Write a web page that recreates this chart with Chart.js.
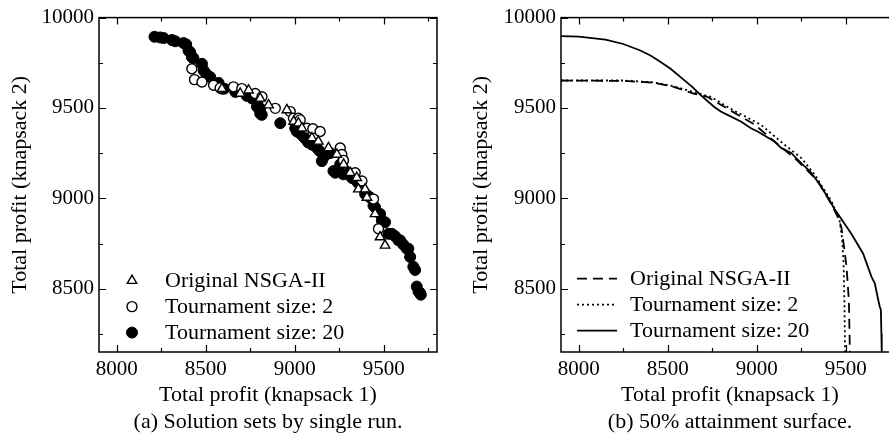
<!DOCTYPE html>
<html>
<head>
<meta charset="utf-8">
<script src="https://cdn.jsdelivr.net/npm/chart.js@4.4.0/dist/chart.umd.min.js"></script>
<style>
  html, body { margin: 0; padding: 0; background: #fff; overflow: hidden; }
  #wrap { position: relative; width: 889px; height: 439px; overflow: hidden; }
  #left { position: absolute; left: 0; top: 0; }
  #right { position: absolute; left: 445px; top: 0; }
</style>
</head>
<body>
<div id="wrap">
  <canvas id="left" width="445" height="439"></canvas>
  <canvas id="right" width="460" height="439"></canvas>
</div>
<script>
// series names
const seriesNames = ['Original NSGA-II', 'Tournament size: 2', 'Tournament size: 20'];

// (a) solutions of a single run
const nsgaX = [8591, 8694, 8741, 8806, 8853, 8956, 8994, 9021, 9041, 9097, 9133, 9190, 9237, 9275, 9312, 9349, 9358, 9396, 9406, 9452, 9480, 9508];
const nsgaY = [9607, 9580, 9598, 9553, 9516, 9489, 9425, 9416, 9388, 9334, 9315, 9279, 9243, 9188, 9142, 9114, 9051, 9051, 9005, 8914, 8786, 8740];

const ts2X = [8422, 8437, 8479, 8544, 8581, 8656, 8703, 8778, 8816, 8891, 8975, 8993, 9021, 9031, 9069, 9102, 9143, 9256, 9265, 9274, 9340, 9378, 9443, 9471];
const ts2Y = [9717, 9657, 9644, 9626, 9611, 9617, 9607, 9580, 9562, 9498, 9480, 9443, 9443, 9434, 9388, 9385, 9370, 9279, 9243, 9210, 9142, 9096, 8996, 8832];

const ts20X = [8212, 8244, 8263, 8310, 8329, 8375, 8390, 8403, 8413, 8422, 8431, 8479, 8488, 8503, 8525, 8572, 8591, 8604,
  8666, 8722, 8731, 8760, 8788, 8788, 8806, 8806, 8815, 8919, 9003, 9012, 9030, 9048, 9060, 9075, 9097, 9125, 9140, 9153,
  9165, 9183, 9199, 9228, 9218, 9256, 9274, 9302, 9321, 9330, 9345, 9357, 9396, 9410, 9424, 9443, 9452, 9480, 9490, 9508,
  9527, 9546, 9565, 9583, 9593, 9610, 9630, 9639, 9649, 9667, 9677, 9686, 9696, 9705, 9709];
const ts20Y = [9894, 9890, 9887, 9876, 9869, 9859, 9852, 9818, 9808, 9781, 9775, 9744, 9708, 9688, 9671, 9639, 9607, 9607,
  9589, 9580, 9567, 9553, 9534, 9507, 9498, 9470, 9462, 9416, 9388, 9370, 9360, 9343, 9330, 9310, 9297, 9279, 9262, 9206,
  9230, 9250, 9251, 9142, 9151, 9188, 9133, 9142, 9114, 9110, 9100, 9085, 9024, 9015, 9005, 8960, 8950, 8914, 8877, 8868,
  8804, 8804, 8790, 8768, 8768, 8745, 8722, 8722, 8676, 8622, 8604, 8512, 8485, 8476, 8467];

// (b) 50% attainment surfaces
const surfNsgaX = [7900, 8250, 8420, 8533, 8646, 8722, 8760, 8855, 8986, 9118, 9232, 9344, 9419, 9457, 9476, 9490, 9505, 9518, 9524];
const surfNsgaY = [9652, 9650, 9640, 9617, 9580, 9562, 9540, 9485, 9410, 9300, 9206, 9096, 8969, 8895, 8841, 8740, 8622, 8439, 8150];

const surfTs2X = [7900, 8250, 8420, 8533, 8646, 8741, 8873, 9024, 9156, 9250, 9325, 9419, 9466, 9480, 9488, 9493, 9497];
const surfTs2Y = [9652, 9652, 9642, 9620, 9588, 9562, 9485, 9407, 9297, 9224, 9133, 8987, 8877, 8780, 8650, 8439, 8150];

const surfTs20X = [7900, 8000, 8150, 8250, 8346, 8403, 8460, 8516, 8572, 8638, 8685, 8760, 8798, 8836, 8911, 8968, 9005, 9100,
  9137, 9194, 9250, 9300, 9344, 9401, 9438, 9457, 9514, 9532, 9598, 9645, 9664, 9683, 9692, 9698, 9701, 9703];
const surfTs20Y = [9898, 9895, 9878, 9854, 9818, 9790, 9754, 9717, 9671, 9617, 9571, 9507, 9480, 9462, 9425, 9388, 9370, 9315,
  9279, 9251, 9195, 9150, 9090, 9005, 8940, 8914, 8830, 8804, 8695, 8567, 8530, 8439, 8400, 8384, 8250, 8150];

// axes
const xTicks = [8000, 8500, 9000, 9500];
const yTicks = [8500, 9000, 9500, 10000];
const xTitle = 'Total profit (knapsack 1)';
const yTitle = 'Total profit (knapsack 2)';
const captions = ['(a) Solution sets by single run.', '(b) 50% attainment surface.'];

const serif = '"Liberation Serif", "Times New Roman", serif';
Chart.defaults.font.family = serif;
Chart.defaults.color = '#000';

const pts = (xs, ys) => xs.map((x, i) => ({ x: x, y: ys[i] }));

// box around the plot with inward ticks (major 500, minor 250)
const frameTicks = {
  id: 'frameTicks',
  afterDraw(chart) {
    const { ctx, chartArea: a, scales: { x, y } } = chart;
    ctx.save();
    ctx.strokeStyle = '#000';
    ctx.lineWidth = 1.5;
    ctx.strokeRect(a.left, a.top, a.right - a.left, a.bottom - a.top);
    ctx.lineWidth = 1.2;
    ctx.beginPath();
    for (let v = Math.ceil(x.min / 250) * 250; v <= x.max; v += 250) {
      const px = Math.round(x.getPixelForValue(v)) + 0.5;
      const len = v % 500 === 0 ? 7 : 4;
      ctx.moveTo(px, a.bottom); ctx.lineTo(px, a.bottom - len);
      ctx.moveTo(px, a.top); ctx.lineTo(px, a.top + len);
    }
    for (let v = Math.ceil(y.min / 250) * 250; v <= y.max; v += 250) {
      const py = Math.round(y.getPixelForValue(v)) + 0.5;
      const len = v % 500 === 0 ? 7 : 4;
      ctx.moveTo(a.left, py); ctx.lineTo(a.left + len, py);
      ctx.moveTo(a.right, py); ctx.lineTo(a.right - len, py);
    }
    ctx.stroke();
    ctx.restore();
  }
};

// legend inside the plot, lower left
const innerLegend = {
  id: 'innerLegend',
  afterDraw(chart, args, opts) {
    const { ctx, chartArea: a } = chart;
    ctx.save();
    ctx.font = '22px ' + serif;
    ctx.textBaseline = 'middle';
    ctx.fillStyle = '#000';
    chart.data.datasets.forEach((ds, i) => {
      const yy = a.top + opts.top + i * 26;
      if (opts.lines) {
        ctx.save();
        ctx.strokeStyle = ds.borderColor;
        ctx.lineWidth = ds.borderWidth;
        ctx.setLineDash(ds.borderDash || []);
        ctx.beginPath();
        ctx.moveTo(a.left + opts.markX - 20, yy);
        ctx.lineTo(a.left + opts.markX + 20, yy);
        ctx.stroke();
        ctx.restore();
      } else {
        ctx.save();
        ctx.fillStyle = ds.backgroundColor;
        ctx.strokeStyle = ds.borderColor;
        ctx.lineWidth = ds.pointBorderWidth;
        Chart.helpers.drawPoint(ctx, {
          pointStyle: ds.pointStyle, radius: ds.pointRadius, rotation: 0, borderWidth: ds.pointBorderWidth
        }, a.left + opts.markX, yy);
        ctx.restore();
      }
      ctx.fillText(ds.label, a.left + opts.textX, yy + 1);
    });
    ctx.restore();
  }
};

function axes(yWidth, yTitlePad, caption) {
  return {
    x: {
      type: 'linear', min: 7900, max: 9800,
      grid: { display: false, drawTicks: false }, border: { display: false },
      afterBuildTicks: s => { s.ticks = xTicks.map(v => ({ value: v })); },
      afterFit: s => { s.height = 87; },
      ticks: { font: { size: 21 }, padding: 5, maxRotation: 0, color: '#000', callback: v => String(v) },
      title: { display: true, text: [xTitle, caption], color: '#000',
        font: { size: 22, lineHeight: 1.25 }, padding: { top: 0, bottom: 3 } }
    },
    y: {
      type: 'linear', min: 8150, max: 10000,
      grid: { display: false, drawTicks: false }, border: { display: false },
      afterBuildTicks: s => { s.ticks = yTicks.map(v => ({ value: v })); },
      afterFit: s => { s.width = yWidth; },
      ticks: { font: { size: 21 }, padding: 5, color: '#000', callback: v => String(v) },
      title: { display: true, text: yTitle, color: '#000',
        font: { size: 22, lineHeight: 1.2 }, padding: { top: yTitlePad, bottom: 0 } }
    }
  };
}

new Chart(document.getElementById('left'), {
  type: 'scatter',
  data: {
    datasets: [
      { label: seriesNames[0], data: pts(nsgaX, nsgaY), pointStyle: 'triangle', pointRadius: 5.5,
        backgroundColor: '#fff', borderColor: '#000', pointBorderWidth: 1.4 },
      { label: seriesNames[1], data: pts(ts2X, ts2Y), pointStyle: 'circle', pointRadius: 5,
        backgroundColor: '#fff', borderColor: '#000', pointBorderWidth: 1.4 },
      { label: seriesNames[2], data: pts(ts20X, ts20Y), pointStyle: 'circle', pointRadius: 5.5,
        backgroundColor: '#000', borderColor: '#000', pointBorderWidth: 1 }
    ]
  },
  options: {
    responsive: false, animation: false,
    layout: { padding: { top: 15, right: 8, left: 0, bottom: 0 } },
    scales: axes(99, 7, captions[0]),
    plugins: {
      legend: { display: false }, tooltip: { enabled: false },
      innerLegend: { top: 263, markX: 33, textX: 66, lines: false }
    }
  },
  plugins: [frameTicks, innerLegend]
});

new Chart(document.getElementById('right'), {
  type: 'scatter',
  data: {
    datasets: [
      { label: seriesNames[0], data: pts(surfNsgaX, surfNsgaY), showLine: true, pointRadius: 0,
        borderColor: '#000', borderWidth: 1.8, borderDash: [10, 6] },
      { label: seriesNames[1], data: pts(surfTs2X, surfTs2Y), showLine: true, pointRadius: 0,
        borderColor: '#000', borderWidth: 1.8, borderDash: [2, 3] },
      { label: seriesNames[2], data: pts(surfTs20X, surfTs20Y), showLine: true, pointRadius: 0,
        borderColor: '#000', borderWidth: 1.8 }
    ]
  },
  options: {
    responsive: false, animation: false,
    layout: { padding: { top: 15, right: 6, left: 0, bottom: 0 } },
    scales: axes(116, 23.5, captions[1]),
    plugins: {
      legend: { display: false }, tooltip: { enabled: false },
      innerLegend: { top: 261, markX: 36, textX: 69, lines: true }
    }
  },
  plugins: [frameTicks, innerLegend]
});
</script>
</body>
</html>
